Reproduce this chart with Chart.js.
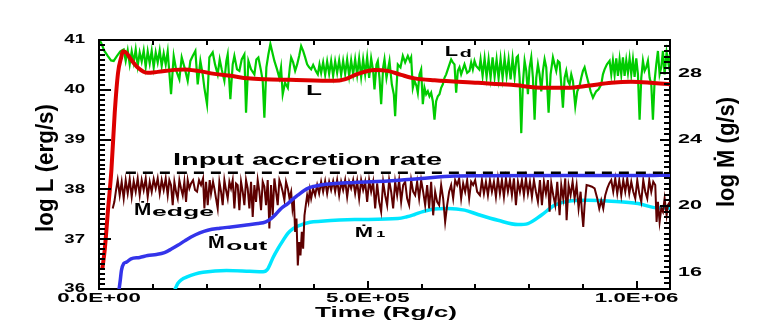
<!DOCTYPE html>
<html><head><meta charset="utf-8">
<script src="https://cdn.jsdelivr.net/npm/chart.js@4/dist/chart.umd.min.js"></script>
<style>html,body{margin:0;padding:0;background:#fff}canvas{display:block}</style>
</head><body>
<canvas id="c" width="763" height="327"></canvas>
<script>
// ---- data (time in Rg/c) ----
const xTickValues = [0, 500000, 1000000];
const xTickLabels = ['0.0E+00', '5.0E+05', '1.0E+06'];
const yLeftTicks = [36, 37, 38, 39, 40, 41];
const yLeftLabels = ['36', '37', '38', '39', '40', '41'];
const yRightTicks = [16, 20, 24, 28];
const yRightLabels = ['16', '20', '24', '28'];
const inputRate = 22.0;
const inputSpan = [50000, 1062000];

// L (red), log erg/s
const lSeries = [[6300,36.41],[10600,36.78],[16700,37.58],[23100,38.39],[29200,39.53],[35400,40.34],[41700,40.67],[44100,40.77],[50200,40.75],[59600,40.61],[72000,40.45],[90600,40.34],[109200,40.36],[140300,40.40],[158900,40.41],[183700,40.38],[214800,40.32],[245600,40.28],[276700,40.23],[307800,40.21],[354900,40.20],[438100,40.18],[456700,40.21],[481400,40.32],[512500,40.40],[537200,40.38],[562000,40.30],[587000,40.23],[624200,40.19],[704800,40.14],[766700,40.10],[828900,40.04],[872200,40.04],[909400,40.08],[952800,40.14],[990100,40.16],[1027200,40.14],[1062100,40.11]];

// L_d (green), log erg/s
const ldSeries = [[0,41.00],[3780,40.95],[9980,40.78],[16180,40.68],[22380,40.59],[27340,40.58],[33540,40.68],[39740,40.77],[45940,40.81],[49660,40.58],[53380,40.79],[57100,40.51],[60820,40.77],[64540,40.55],[68260,40.81],[71980,40.48],[75700,40.75],[79420,40.57],[83140,40.79],[86860,40.46],[90580,40.77],[94300,40.53],[98020,40.78],[101740,40.45],[105460,40.75],[109180,40.55],[112900,40.79],[116620,40.48],[120340,40.73],[124060,40.51],[127780,40.77],[133980,39.91],[138940,40.68],[143900,40.38],[149480,40.21],[153820,40.65],[160020,40.41],[164980,40.18],[169940,40.58],[174280,40.68],[179240,40.78],[183580,40.11],[188540,40.58],[192880,40.31],[195980,40.04],[200940,39.71],[205280,40.65],[211480,40.75],[215820,40.51],[220780,40.31],[224500,40.61],[228220,40.41],[233180,40.18],[236900,40.58],[239380,40.71],[244340,39.81],[248680,40.51],[251780,40.68],[256740,40.41],[261080,40.38],[265420,40.61],[270380,40.71],[273480,39.54],[277820,40.58],[282780,40.41],[288980,40.31],[292700,40.61],[296420,40.65],[301380,40.38],[304480,40.18],[307580,39.44],[311300,40.45],[315020,40.71],[318740,40.92],[322460,40.75],[326180,40.58],[331140,40.41],[335480,40.24],[338580,40.45],[341680,39.91],[346020,40.14],
[351170,40.04],[354890,40.45],[357370,40.65],[361090,40.55],[364810,40.38],[368530,40.51],[372250,40.68],[375970,40.88],[379690,40.78],[383410,40.65],[387130,40.51],[390850,40.45],[394570,40.41],[398290,40.50],[403250,40.38],[406970,40.31],[410070,40.51],[413170,40.34],[416890,40.55],[420610,40.30],[424330,40.57],[428050,40.32],[431770,40.58],[435490,40.28],[439210,40.57],[442930,40.34],[446650,40.59],[450370,40.30],[454090,40.58],[457810,40.32],[461530,40.61],[465250,40.28],[468970,40.59],[472690,40.31],[476410,40.61],[480130,40.30],[483850,40.63],[487570,40.26],[491290,40.61],[495010,40.31],[498730,40.65],[502450,40.24],[506170,40.63],[509890,40.38],[512370,40.01],[516090,40.51],[518570,40.58],[521670,40.24],[524770,39.71],[528490,40.45],[530970,40.61],[534690,40.24],[540270,40.58],[544610,40.11],[548330,39.91],[550810,39.47],[553290,40.04],[555770,40.51],[560730,40.45],[565070,40.68],[569410,40.55],[574370,40.68],[578090,40.58],[580570,40.65],[583670,40.04],[586770,40.18],[590490,40.08],[592970,39.94],[596070,40.31],[599170,40.41],[602270,39.71],[605370,40.04],[608470,39.91],[611570,39.97],[614670,39.87],[617770,39.94],[620870,39.77],[623970,39.40],[627070,39.77],[630170,39.87],[633270,39.91],[636370,40.04],[639470,40.11],[642570,40.24],[645670,40.31],[650010,40.45],[654970,40.61],[658070,40.55],[661170,40.51],[664270,39.94],[667370,40.38],[670470,40.45],[673570,40.31],[676670,40.41],[679770,40.51],[684730,40.34],[689070,40.38],[692170,40.55],[695270,40.41],[698370,40.58],[701470,40.48],
[707240,40.41],[709720,40.61],[713440,40.28],[717160,40.63],[720880,40.26],[724600,40.61],[728320,40.24],[732040,40.65],[735760,40.26],[739480,40.61],[743200,40.23],[746920,40.62],[750640,40.24],[754360,40.63],[758080,40.28],[761800,40.61],[765520,40.21],[769240,40.63],[772960,40.26],[776680,40.65],[779160,40.68],[782260,40.24],[785360,39.13],[788460,40.14],[791560,40.58],[794660,40.38],[797760,39.91],[800860,40.45],[803960,40.65],[807060,40.24],[810160,39.40],[813260,40.24],[816360,40.51],[819460,40.31],[822560,39.97],[825660,40.38],[828760,40.61],[831860,40.45],[836200,39.54],[839920,40.31],[844260,40.65],[847360,40.51],[850460,40.38],[853560,40.58],[856660,40.55],[859760,40.11],[862860,39.64],[865960,40.24],[869060,40.38],[872160,40.18],[875260,40.11],[878360,40.31],[881460,40.18],[885800,39.67],[889520,39.97],[893860,40.08],[896960,40.24],[900060,40.38],[903160,40.45],[906260,40.31],[909360,40.18],[914320,39.97],[918660,39.84],[921760,39.91],[924860,39.97],[929200,40.01],[934160,40.11],[937260,40.31],[940360,40.41],[944700,40.51],[949660,40.58],[952760,40.31],[955860,40.59],[958960,40.30],[962060,40.63],[965160,40.28],[968260,40.61],[971360,40.31],[974460,40.65],[977560,40.28],[980660,40.59],[983760,40.34],[986860,40.63],[989960,40.31],[993060,40.61],[996160,40.26],[999260,40.63],[1002360,40.31],[1005460,39.40],[1008560,40.24],[1011660,40.58],[1014760,40.38],[1017860,40.45],[1020960,40.58],[1024060,40.24],[1027160,40.11],[1030260,39.40],[1033360,40.18],[1036460,40.51],[1039560,40.78],[1042660,40.31],[1045760,40.45],[1048860,40.78],[1051960,40.31],[1055680,40.75],[1059400,40.51],[1061880,40.71]];

// Mdot_edge (dark red), log g/s
const edgeSeries = [[25480,19.85],[28580,20.25],[31680,20.96],[34780,21.56],[38500,20.65],[42220,21.46],[45940,20.45],[49660,21.56],[53380,20.75],[57100,21.62],[60820,20.55],[64540,21.50],[68260,20.86],[71980,21.66],[75700,20.65],[79420,21.56],[83140,20.96],[86860,21.66],[90580,20.55],[94300,21.46],[98020,20.86],[101740,21.62],[105460,21.06],[109180,21.66],[112900,20.75],[116620,21.56],[120340,20.96],[124060,21.66],[127780,20.65],[130880,21.56],[133980,21.26],[137080,20.05],[140180,21.46],[143900,20.75],[146380,20.45],[149480,21.56],[152580,21.06],[155680,20.65],[158780,21.46],[161880,20.25],[164980,21.56],[168080,21.06],[171180,21.36],[174900,21.56],[178620,20.96],[182340,20.86],[186060,21.56],[189780,21.26],[193500,21.66],[195980,19.85],[199080,21.46],[202180,20.05],[205900,21.56],[208380,20.75],[212100,21.46],[214580,21.06],[217680,20.45],[220780,19.85],[223880,21.46],[226980,20.86],[230080,20.05],[233180,21.56],[236280,20.96],[239380,20.45],[242480,21.46],[245580,21.06],[248680,21.56],[251780,19.85],[254880,21.36],[257980,21.26],[261080,19.75],[264180,21.46],[267280,20.86],[270380,20.05],[273480,21.56],[276580,21.06],[279680,19.85],[282780,21.46],[285880,19.34],[288980,21.26],[292080,20.25],[295180,21.56],[298280,20.86],[301380,19.75],[304480,21.46],[307580,21.16],[310680,20.05],[313780,21.56],[316880,18.64],[319980,21.26],[323080,19.44],[326180,21.66],[329280,20.86],[332380,20.05],[335480,21.56],[338580,21.26],[341680,20.86],[344780,20.35],[347880,21.46],
[351170,21.06],[354270,20.45],[357370,20.86],[359850,19.85],[362330,20.45],[364810,18.44],[367290,19.24],[369770,16.42],[372250,17.83],[374730,17.02],[377210,18.44],[379690,17.43],[382170,19.44],[384650,20.05],[387130,20.65],[389610,20.25],[392090,20.96],[394570,20.45],[398290,21.06],[402010,20.65],[405730,21.26],[409450,20.75],[413170,21.46],[416890,20.86],[420610,21.50],[424330,20.75],[428050,21.46],[431770,20.96],[435490,21.50],[439210,20.86],[442930,21.56],[446650,20.65],[450370,21.46],[454090,20.96],[457810,21.56],[461530,20.55],[465250,21.46],[468970,21.06],[472690,21.56],[476410,20.75],[480130,21.50],[483850,20.45],[487570,21.56],[491290,20.96],[495010,21.46],[498730,20.25],[502450,21.56],[506170,20.86],[509890,21.46],[513610,19.85],[517330,21.36],[521050,20.25],[524770,19.65],[528490,21.46],[532210,20.65],[535930,20.05],[539650,21.56],[543370,20.86],[547090,19.85],[550810,21.46],[554530,20.65],[558250,21.56],[561970,20.25],[565690,21.26],[569410,21.46],[573130,20.45],[576850,20.05],[580570,21.56],[584290,20.86],[588010,20.65],[591730,21.46],[595450,20.45],[599170,21.56],[602890,20.86],[606610,20.05],[610330,21.26],[614050,19.85],[617770,21.46],[621490,19.44],[625210,20.86],[628930,20.25],[632650,20.05],[636370,21.26],[640090,20.45],[643810,19.04],[647530,20.05],[651250,20.86],[654970,21.26],[658690,20.45],[662410,21.56],[666130,21.26],[669850,21.66],[673570,20.45],[677290,21.36],[681010,20.86],[684730,21.56],[688450,20.45],[692170,21.46],[695890,21.26],[699610,21.56],[703330,20.86],
[708480,20.65],[712200,21.56],[715920,20.75],[719640,21.46],[723360,20.65],[727080,21.56],[730800,20.86],[734520,21.46],[738240,20.55],[741960,21.66],[745680,20.75],[749400,21.56],[753120,20.55],[756840,21.66],[760560,20.86],[764280,21.56],[768000,20.65],[771720,21.66],[775440,20.05],[779160,21.46],[782880,20.86],[786600,21.56],[790320,20.65],[794040,21.66],[797760,20.75],[801480,21.46],[805200,20.55],[808920,21.56],[812640,20.86],[816360,20.25],[820080,21.56],[823800,20.05],[827520,21.46],[831240,20.75],[834960,21.56],[838060,19.65],[841160,21.36],[844880,20.65],[848600,20.05],[852320,21.46],[856660,19.44],[859760,21.26],[863480,20.45],[867200,21.66],[869680,19.14],[873400,21.26],[877120,20.65],[880840,21.46],[884560,20.45],[888280,21.26],[892000,19.85],[895720,20.86],[898200,19.65],[900680,18.74],[903160,20.05],[906880,21.26],[911840,21.22],[916800,21.16],[921760,21.06],[926720,20.45],[930440,19.85],[934160,20.35],[937880,19.85],[941600,20.65],[945320,21.06],[949040,21.36],[952760,21.56],[956480,20.86],[960200,21.66],[963920,20.75],[967640,21.56],[971360,20.65],[975080,21.56],[978800,20.86],[982520,21.66],[986240,20.75],[989960,21.46],[993680,20.86],[997400,20.45],[1001120,21.56],[1004840,20.75],[1008560,20.25],[1012280,21.56],[1016000,20.86],[1019720,20.45],[1023440,21.56],[1027160,20.86],[1030880,21.46],[1034600,21.26],[1037080,19.04],[1039560,20.25],[1042660,19.04],[1045760,19.85],[1048860,19.65],[1051960,20.45],[1055680,19.44],[1058160,20.05],[1061880,20.25]];

// Mdot_out (blue), log g/s
const outSeries = [[37200,14.95],[39500,15.51],[41700,16.11],[46000,16.54],[51000,16.62],[59600,16.82],[75700,16.90],[90600,17.02],[106800,17.08],[121700,17.19],[135300,17.42],[146500,17.63],[159500,17.90],[171200,18.13],[187400,18.38],[202300,18.54],[224600,18.66],[245600,18.74],[271100,18.84],[295300,18.94],[310200,19.05],[320100,19.24],[328800,19.50],[338700,19.85],[351200,20.15],[360500,20.41],[369800,20.65],[388400,21.06],[413100,21.26],[475300,21.42],[537200,21.50],[599200,21.66],[661300,21.80],[708500,21.82],[857300,21.83],[1006000,21.83],[1062100,21.86]];

// Mdot_1 (cyan), log g/s
const m1Series = [[140900,14.95],[146500,15.33],[153900,15.57],[162600,15.71],[178100,15.90],[193500,16.01],[237100,16.12],[280400,16.07],[305200,16.04],[313900,16.21],[323800,16.90],[332600,17.42],[342400,17.93],[351200,18.35],[361000,18.64],[373500,18.84],[392100,19.02],[413100,19.08],[475300,19.18],[555900,19.24],[572600,19.35],[586900,19.49],[602400,19.66],[617800,19.79],[648900,19.85],[680000,19.75],[704800,19.49],[741900,19.14],[779200,18.88],[797800,18.94],[822500,19.44],[847500,20.05],[872200,20.29],[909400,20.35],[952800,20.29],[1002500,20.15],[1039700,19.88],[1062100,19.88]];

// ---- rendering ----
const X_MAX = 1062000;
const TXT_FONT = '"Liberation Sans", Arial, sans-serif';

const toXY = pts => pts.map(p => ({x: p[0], y: p[1]}));
function line(label, pts, color, width, axis, extra) {
  return Object.assign({label, data: toXY(pts), borderColor: color, backgroundColor: color,
    borderWidth: width, pointRadius: 0, fill: false, yAxisID: axis, tension: 0}, extra || {});
}

// text drawn horizontally stretched (the original figure uses wide glyphs)
function sText(ctx, txt, x, y, px, sx, align, baseline) {
  ctx.save();
  ctx.font = 'bold ' + px + 'px ' + TXT_FONT;
  ctx.textAlign = 'left';
  ctx.textBaseline = baseline || 'alphabetic';
  const w = ctx.measureText(txt).width * sx;
  let x0 = x;
  if (align === 'right') x0 = x - w;
  else if (align === 'center') x0 = x - w / 2;
  ctx.translate(x0, y);
  ctx.scale(sx, 1);
  ctx.fillStyle = '#000';
  ctx.fillText(txt, 0, 0);
  ctx.restore();
}
function wText(ctx, txt, x, base, px, targetW) {
  ctx.save();
  ctx.font = 'bold ' + px + 'px ' + TXT_FONT;
  const w = ctx.measureText(txt).width;
  ctx.restore();
  sText(ctx, txt, x, base, px, targetW / w, 'left');
}
function rotText(ctx, txt, cx, cy, px, targetLen, thick) {
  ctx.save();
  ctx.font = 'bold ' + px + 'px ' + TXT_FONT;
  const w = ctx.measureText(txt).width;
  ctx.translate(cx, cy);
  ctx.rotate(-Math.PI / 2);
  ctx.scale(targetLen / w, thick);
  ctx.textAlign = 'center';
  ctx.textBaseline = 'middle';
  ctx.fillStyle = '#000';
  ctx.fillText(txt, 0, 0);
  ctx.restore();
}

const labels = [
  {t: 'Input accretion rate', x: 173, b: 165, s: 17, w: 269},
  {t: 'L', x: 306, b: 95.3, s: 15, w: 16},
  {t: 'L', x: 444.7, b: 56.3, s: 14, w: 13.3},
  {t: 'd', x: 459.7, b: 57.3, s: 10.5, w: 12},
  {t: '\u1E40', x: 134, b: 215, s: 16, w: 17.3},
  {t: 'edge', x: 152, b: 215.7, s: 12.3, w: 62},
  {t: '\u1E40', x: 208, b: 248.3, s: 16, w: 16.7},
  {t: 'out', x: 226.3, b: 250, s: 12, w: 41},
  {t: '\u1E40', x: 354.7, b: 236.7, s: 14, w: 18.3},
  {t: '1', x: 376.3, b: 236.7, s: 9.5, w: 9}
];

const decorPlugin = {
  id: 'decor',
  afterDraw(chart) {
    const ctx = chart.ctx;
    const area = chart.chartArea;
    const L = Math.round(area.left), R = Math.round(area.right), T = Math.round(area.top), B = Math.round(area.bottom);
    const sx = chart.scales.x, sy = chart.scales.y, sy2 = chart.scales.y2;
    ctx.save();
    ctx.globalAlpha = 1;
    ctx.fillStyle = '#000000';
    // top frame line
    ctx.fillRect(L - 1, T - 1, R - L + 2, 2);
    // x tick marks every 1e5 (bottom: upward, top: downward)
    for (let i = 0; i <= 10; i++) {
      const px = Math.round(sx.getPixelForValue(i * 100000));
      const len = (i % 5 === 0) ? 8 : 5;
      ctx.fillRect(px - 1, B - len, 2, len);
      ctx.fillRect(px - 1, T, 2, 5);
    }
    // left tick marks every 0.1
    for (let i = 0; i <= 50; i++) {
      const py = Math.round(sy.getPixelForValue(36 + i / 10));
      const len = (i % 10 === 0) ? 12 : 6;
      ctx.fillRect(L, py - 1, len, 2);
    }
    // right tick marks every 1/3
    for (let i = 0; i <= 45; i++) {
      const py = Math.round(sy2.getPixelForValue(15 + i / 3));
      const len = ((i + 9) % 12 === 0) ? 10 : 6;
      ctx.fillRect(R - len, py - 1, len, 2);
    }
    ctx.restore();

    // tick labels at the library's tick positions
    sy.ticks.forEach((t, i) => sText(ctx, yLeftLabels[i], 85, sy.getPixelForValue(t.value), 12, 1.55, 'right', 'middle'));
    sy2.ticks.forEach((t, i) => sText(ctx, yRightLabels[i], 678, sy2.getPixelForValue(t.value), 12, 1.8, 'left', 'middle'));
    sx.ticks.forEach((t, i) => sText(ctx, xTickLabels[i], sx.getPixelForValue(t.value), 301.7, 13.5, 1.65, 'center', 'alphabetic'));
    labels.forEach(l => wText(ctx, l.t, l.x, l.b, l.s, l.w));
    wText(ctx, 'Time (Rg/c)', 315, 316.7, 14, 142);
    rotText(ctx, 'log L (erg/s)', 46, 168, 16, 128, 1.5);
    rotText(ctx, 'log \u1E40 (g/s)', 727, 152, 16, 110, 1.5);
  }
};

new Chart(document.getElementById('c'), {
  type: 'line',
  data: {
    datasets: [
      line('Input accretion rate', [[inputSpan[0], inputRate], [inputSpan[1], inputRate]], '#000000', 2.5, 'y2', {borderDash: [10, 7]}),
      line('Mdot_out', outSeries, '#3434ea', 3.5, 'y2', {cubicInterpolationMode: 'monotone'}),
      line('L', lSeries, '#dd0000', 4, 'y', {cubicInterpolationMode: 'monotone'}),
      line('Mdot_edge', edgeSeries, '#5e0000', 2, 'y2'),
      line('Mdot_1', m1Series, '#00e6ff', 3.5, 'y2', {cubicInterpolationMode: 'monotone'}),
      line('L_d', ldSeries, '#00cc00', 2.2, 'y')
    ]
  },
  options: {
    responsive: false,
    animation: false,
    events: [],
    layout: {padding: {top: 40, left: 0, right: 0, bottom: 0}},
    plugins: {legend: {display: false}, tooltip: {enabled: false}},
    scales: {
      x: {
        type: 'linear', min: 0, max: X_MAX,
        grid: {display: false, drawTicks: false},
        border: {display: true, color: '#000', width: 2},
        ticks: {display: false, autoSkip: false},
        afterBuildTicks: s => { s.ticks = xTickValues.map(v => ({value: v})); },
        afterFit: s => { s.height = 38; }
      },
      y: {
        position: 'left', min: 36, max: 41,
        grid: {display: false, drawTicks: false},
        border: {display: true, color: '#000', width: 2},
        ticks: {display: false, autoSkip: false},
        afterBuildTicks: s => { s.ticks = yLeftTicks.map(v => ({value: v})); },
        afterFit: s => { s.width = 99; }
      },
      y2: {
        position: 'right', min: 15, max: 30,
        grid: {display: false, drawTicks: false},
        border: {display: true, color: '#000', width: 2},
        ticks: {display: false, autoSkip: false},
        afterBuildTicks: s => { s.ticks = yRightTicks.map(v => ({value: v})); },
        afterFit: s => { s.width = 93; }
      }
    }
  },
  plugins: [decorPlugin]
});
</script>
</body></html>
